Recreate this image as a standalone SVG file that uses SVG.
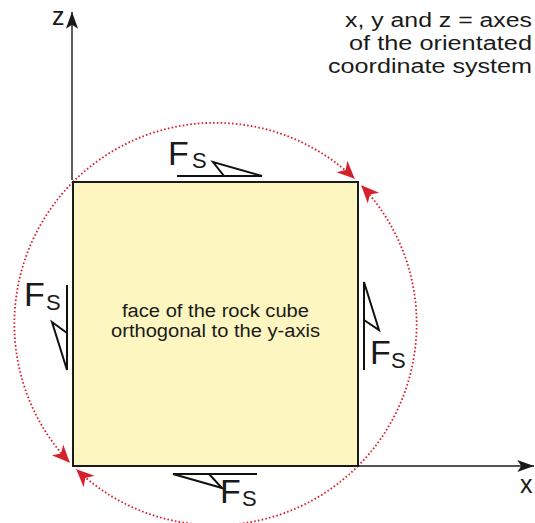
<svg xmlns="http://www.w3.org/2000/svg" width="535" height="523" viewBox="0 0 535 523">
<style>
text{font-family:"Liberation Sans",Arial,sans-serif;fill:#1a1a1a}
.arc{fill:none;stroke:#d8202b;stroke-width:1.8;stroke-dasharray:1.6 2.2}
.ax{fill:none;stroke:#1a1a1a;stroke-width:1.4}
.half{fill:none;stroke:#111;stroke-width:2;stroke-linejoin:miter}
.F{font-size:34px}
.S{font-size:22px}
</style>
<defs>
<marker id="red" markerUnits="userSpaceOnUse" markerWidth="22" markerHeight="22" viewBox="-19 -9 21 18" refX="0" refY="0" orient="auto">
<path d="M0,0 L-17,-7.5 L-12,0 L-17,7.5 z" fill="#d8202b"/>
</marker>
<marker id="blk" markerUnits="userSpaceOnUse" markerWidth="20" markerHeight="20" viewBox="-16 -8 18 16" refX="0" refY="0" orient="auto">
<path d="M0,0 L-15,-5.5 L-11.5,0 L-15,5.5 z" fill="#1a1a1a"/>
</marker>
</defs>

<g id="connectors">
<path class="arc" d="M73,182 A201.2,201.2 0 0 1 354.75,178.8" marker-end="url(#red)"/>
<path class="arc" d="M358,466 A201.2,201.2 0 0 0 361.2,185.3" marker-end="url(#red)"/>
<path class="arc" d="M73,182 A201.2,201.2 0 0 0 69.8,462.7" marker-end="url(#red)"/>
<path class="arc" d="M358,466 A201.2,201.2 0 0 1 76.25,469.2" marker-end="url(#red)"/>
<line class="ax" x1="72" y1="180" x2="72" y2="12" marker-end="url(#blk)"/>
<line class="ax" x1="358" y1="466" x2="534" y2="466" marker-end="url(#blk)"/>
</g>

<g id="axis-labels">
<text x="52" y="25" style="font-size:25px">z</text>
<text x="520" y="493" style="font-size:25px">x</text>
</g>

<g id="legend">
<text x="345" y="27" style="font-size:20px" textLength="187" lengthAdjust="spacingAndGlyphs">x, y and z = axes</text>
<text x="349" y="50" style="font-size:20px" textLength="183" lengthAdjust="spacingAndGlyphs">of the orientated</text>
<text x="328" y="73" style="font-size:20px" textLength="204" lengthAdjust="spacingAndGlyphs">coordinate system</text>
</g>

<g id="cube-face">
<rect x="73" y="182" width="285" height="284" fill="#fef6c0" stroke="#1a1a1a" stroke-width="2"/>
<text x="122" y="317" style="font-size:18px" textLength="187" lengthAdjust="spacingAndGlyphs">face of the rock cube</text>
<text x="111" y="337" style="font-size:18px" textLength="209" lengthAdjust="spacingAndGlyphs">orthogonal to the y-axis</text>
</g>

<g id="shear-top">
<path class="half" d="M177,176 L262,176 L213,162 L224,176"/>
<text class="F" x="168" y="165">F</text>
<text class="S" x="192" y="168">S</text>
</g>

<g id="shear-left">
<path class="half" d="M67,285 L67,370 L52,322 L67,333"/>
<text class="F" x="24" y="306">F</text>
<text class="S" x="46" y="310">S</text>
</g>

<g id="shear-right">
<path class="half" d="M364,370 L364,282 L379,330 L364,320"/>
<text class="F" x="370" y="364">F</text>
<text class="S" x="391" y="368">S</text>
</g>

<g id="shear-bottom">
<path class="half" d="M257,474 L173,474 L222,488 L209,474"/>
<text class="F" x="220" y="503">F</text>
<text class="S" x="242" y="506">S</text>
</g>
</svg>
